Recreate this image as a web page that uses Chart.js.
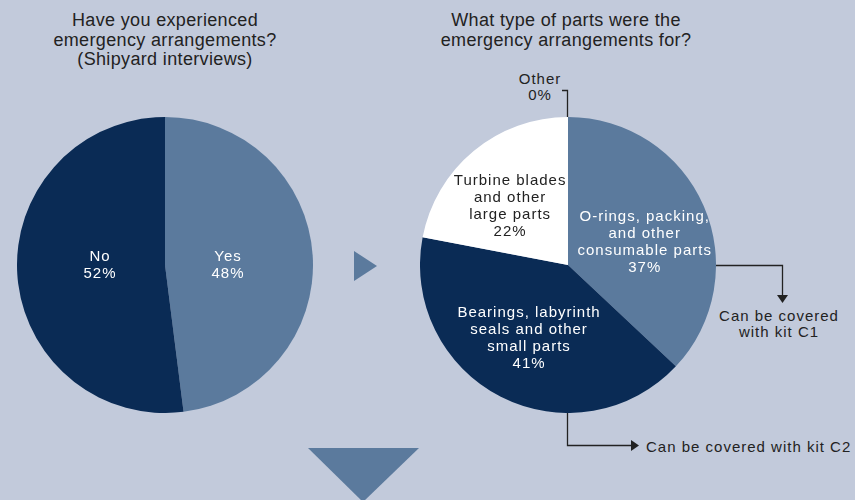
<!DOCTYPE html>
<html>
<head>
<meta charset="utf-8">
<script src="https://cdn.jsdelivr.net/npm/chart.js@4"></script>
<style>
  html, body { margin: 0; padding: 0; }
  body {
    width: 855px; height: 500px; overflow: hidden; position: relative;
    background: #c2cadb;
    font-family: "Liberation Sans", Arial, sans-serif; color: #222;
  }
  .title { position: absolute; text-align: center; font-size: 18px; line-height: 19.5px; letter-spacing: 0.35px; }
  .note { position: absolute; font-size: 15px; line-height: 16px; text-align: center; letter-spacing: 1px; }
  canvas { position: absolute; }
  svg { position: absolute; left: 0; top: 0; }
</style>
</head>
<body>

<div class="title" style="left:5px; top:11px; width:320px;">Have you experienced<br>emergency arrangements?<br>(Shipyard interviews)</div>
<div class="title" style="left:406px; top:11px; width:320px;">What type of parts were the<br>emergency arrangements for?</div>

<svg width="855" height="500">
  <!-- flèches de liaison -->
  <polygon points="354,251 377,266 354,281" fill="#5b7a9d"/>
  <polygon points="308,448 419,448 363,502" fill="#5b7a9d"/>
  <!-- renvois -->
  <polyline points="562,90.5 567.5,90.5 567.5,118" fill="none" stroke="#222" stroke-width="1.3"/>
  <polyline points="715,265.5 782.5,265.5 782.5,296" fill="none" stroke="#222" stroke-width="1.3"/>
  <polygon points="777,295 788,295 782.5,303" fill="#222"/>
  <polyline points="567.5,413 567.5,445.5 632,445.5" fill="none" stroke="#222" stroke-width="1.3"/>
  <polygon points="631,440 639,445.5 631,451" fill="#222"/>
</svg>

<div class="note" style="left:510px; top:71px; width:60px;">Other<br>0%</div>
<div class="note" style="left:704px; top:308px; width:150px;">Can be covered<br>with kit C1</div>
<div class="note" style="left:646px; top:439px; text-align:left; white-space:nowrap;">Can be covered with kit C2</div>

<canvas id="pie-left" width="296" height="296" style="left:17px; top:117px;"></canvas>
<canvas id="pie-right" width="296" height="296" style="left:420px; top:117px;"></canvas>

<script>
// Données
const leftLabels = ['Yes', 'No'];
const leftValues = [48, 52];
const leftColors = ['#5b7a9d', '#0a2b55'];

const rightLabels = [
    ['O-rings, packing,', 'and other', 'consumable parts'],
    ['Bearings, labyrinth', 'seals and other', 'small parts'],
    ['Turbine blades', 'and other', 'large parts'],
    ['Other']
];
const rightValues = [37, 41, 22, 0];
const rightColors = ['#5b7a9d', '#0a2b55', '#ffffff', '#ffffff'];

// Plugin pour écrire les étiquettes dans les parts
const sliceLabels = {
    id: 'sliceLabels',
    afterDatasetsDraw(chart, args, opts) {
        const ctx = chart.ctx;
        const meta = chart.getDatasetMeta(0);
        const values = chart.data.datasets[0].data;
        ctx.save();
        ctx.font = '15px "Liberation Sans", Arial, sans-serif';
        ctx.letterSpacing = '1px';
        ctx.textAlign = 'center';
        ctx.textBaseline = 'middle';
        meta.data.forEach((arc, i) => {
            if (!values[i]) return;
            const mid = (arc.startAngle + arc.endAngle) / 2;
            const r = arc.outerRadius * opts.fraction;
            const shift = (opts.shift && opts.shift[i]) || [0, 0];
            const x = arc.x + Math.cos(mid) * r + shift[0];
            const y = arc.y + Math.sin(mid) * r + shift[1];
            let lines = chart.data.labels[i];
            lines = Array.isArray(lines) ? lines.slice() : [lines];
            lines.push(values[i] + '%');
            const colour = chart.data.datasets[0].backgroundColor[i];
            ctx.fillStyle = colour === '#ffffff' ? '#222' : '#ffffff';
            const lh = 17;
            const top = y - (lines.length - 1) * lh / 2;
            lines.forEach((line, k) => ctx.fillText(line, x, top + k * lh));
        });
        ctx.restore();
    }
};

function makePie(id, labels, values, colors, fraction, shift) {
    return new Chart(document.getElementById(id), {
        type: 'pie',
        data: {
            labels: labels,
            datasets: [{
                data: values,
                backgroundColor: colors,
                borderWidth: 0
            }]
        },
        options: {
            responsive: false,
            animation: false,
            layout: { padding: 0 },
            plugins: {
                legend: { display: false },
                tooltip: { enabled: false },
                sliceLabels: { fraction: fraction, shift: shift }
            }
        },
        plugins: [sliceLabels]
    });
}

makePie('pie-left', leftLabels, leftValues, leftColors, 0.44, [[-2, 4], [0, -4]]);
makePie('pie-right', rightLabels, rightValues, rightColors, 0.55, [[2, 10], [-2, 1], [-6, 4]]);
</script>
</body>
</html>
